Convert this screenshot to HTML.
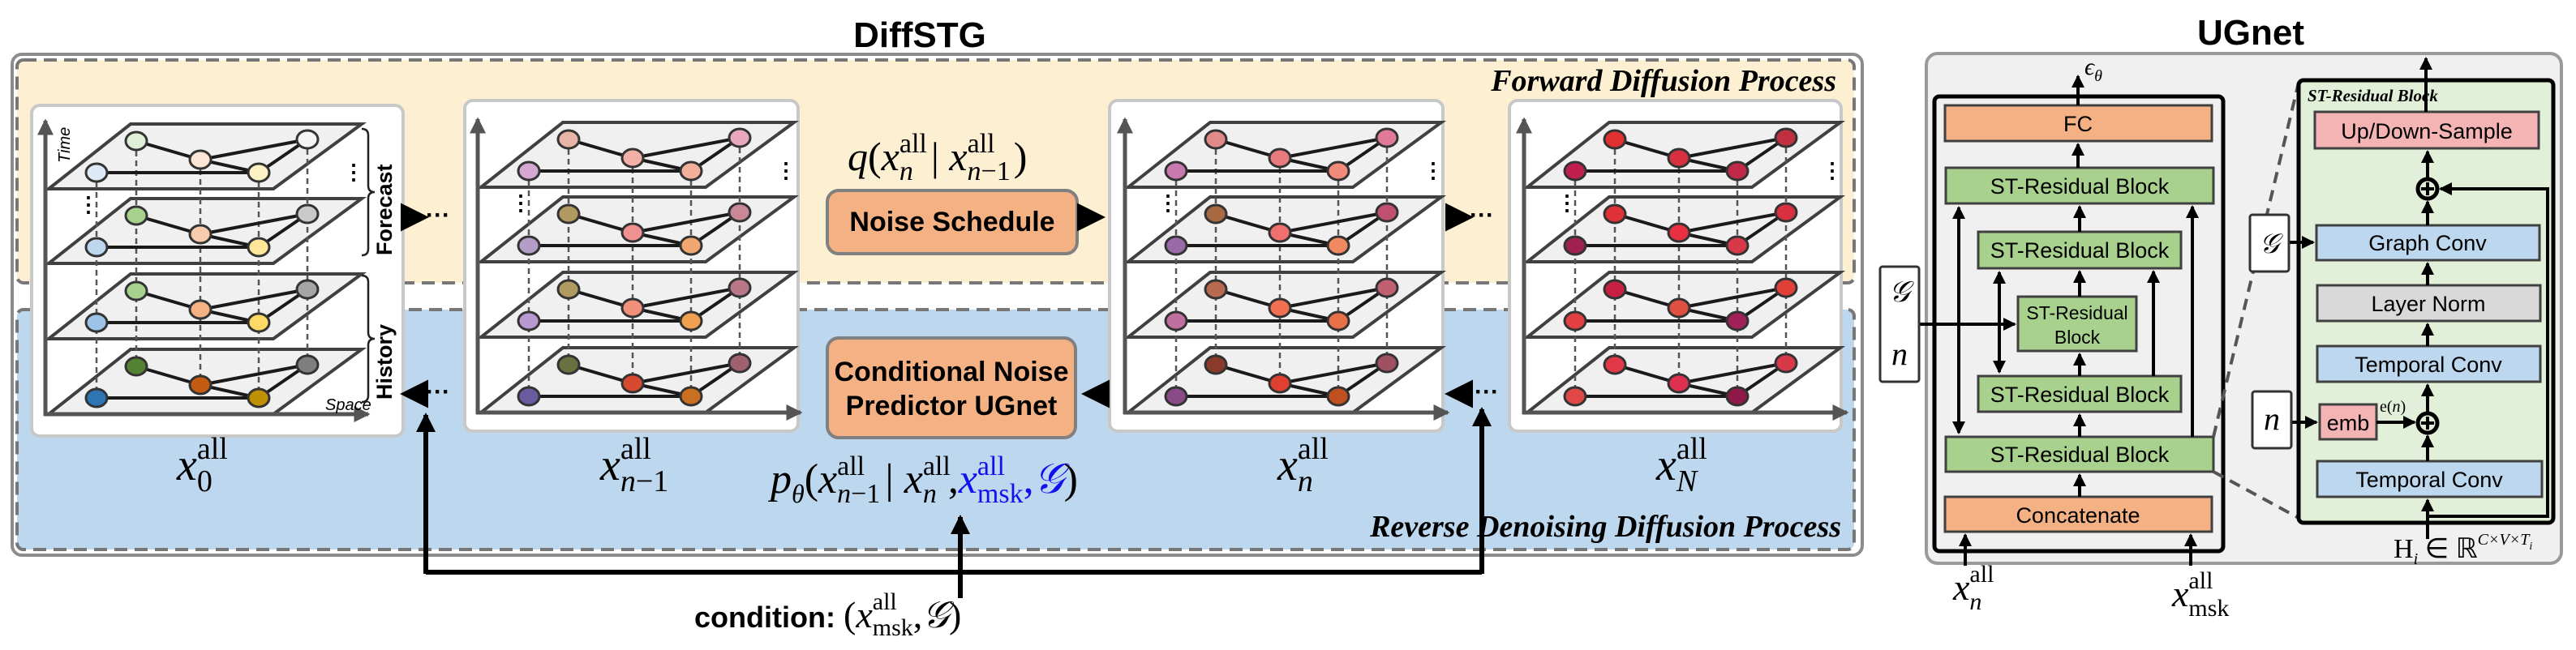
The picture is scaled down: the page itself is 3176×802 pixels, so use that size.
<!DOCTYPE html>
<html><head><meta charset="utf-8"><style>
html,body{margin:0;padding:0;background:#fff;}
svg{display:block;}
.m{font-family:"Liberation Serif",serif;font-style:italic;}
.r{font-family:"Liberation Serif",serif;}
.s{font-family:"Liberation Sans",sans-serif;}
.b{font-family:"Liberation Sans",sans-serif;font-weight:bold;}
</style></head><body>
<svg id="S" width="3176" height="802" viewBox="0 0 3176 802" xmlns="http://www.w3.org/2000/svg">
<defs>
<marker id="ah" markerWidth="5" markerHeight="5" refX="4" refY="2.5" orient="auto" markerUnits="strokeWidth"><path d="M0,0 L5,2.5 L0,5 z" fill="#000"/></marker>
<marker id="ahs" markerWidth="4" markerHeight="4" refX="3.5" refY="2" orient="auto-start-reverse" markerUnits="strokeWidth"><path d="M0,0 L4,2 L0,4 z" fill="#000"/></marker>
<marker id="ag" markerWidth="4" markerHeight="4" refX="3.5" refY="2" orient="auto" markerUnits="strokeWidth"><path d="M0,0 L4,2 L0,4 z" fill="#555"/></marker>
</defs>
<!-- DiffSTG -->
<text x="1134" y="58" class="b" font-size="44" text-anchor="middle">DiffSTG</text>
<rect x="15" y="67" width="2281" height="618" rx="12" fill="#fff" stroke="#8c8c8c" stroke-width="4"/>
<rect x="21" y="74" width="2265" height="275" rx="8" fill="#fdf0d2" stroke="#777" stroke-width="4" stroke-dasharray="16,9"/>
<rect x="21" y="382" width="2265" height="296" rx="8" fill="#bdd7ee" stroke="#777" stroke-width="4" stroke-dasharray="16,9"/>
<text x="2264" y="112" class="r" font-style="italic" font-weight="bold" font-size="38" text-anchor="end">Forward Diffusion Process</text>
<text x="2270" y="662" class="r" font-style="italic" font-weight="bold" font-size="38" text-anchor="end">Reverse Denoising Diffusion Process</text>
<g id="panels"></g>
<!-- Noise schedule -->
<rect x="1020" y="235" width="308" height="78" rx="14" fill="#f4b183" stroke="#808080" stroke-width="4"/>
<text x="1174" y="285" class="b" font-size="34" text-anchor="middle">Noise Schedule</text>
<rect x="1020" y="417" width="306" height="123" rx="14" fill="#f4b183" stroke="#808080" stroke-width="4"/>
<text x="1173" y="470" class="b" font-size="34" text-anchor="middle">Conditional Noise</text>
<text x="1173" y="512" class="b" font-size="34" text-anchor="middle">Predictor UGnet</text>
<!-- q label -->
<text x="1045" y="210" class="m" font-size="50">q<tspan class="r" font-style="normal">(</tspan>x<tspan font-size="34" class="r" font-style="normal" dy="-22">all</tspan><tspan font-size="34" dx="-34" dy="34">n</tspan><tspan dx="22" dy="-12" class="r" font-style="normal">|</tspan> x<tspan font-size="34" class="r" font-style="normal" dy="-22">all</tspan><tspan font-size="34" dx="-34" dy="34">n</tspan><tspan font-size="34" class="r" font-style="normal">−1</tspan><tspan dx="4" dy="-12" class="r" font-style="normal">)</tspan></text>
<!-- p label -->
<text x="950" y="608" class="m" font-size="52">p<tspan font-size="32" dy="12">θ</tspan><tspan dy="-12" class="r" font-style="normal">(</tspan>x<tspan font-size="34" class="r" font-style="normal" dy="-22">all</tspan><tspan font-size="34" dx="-34" dy="34">n</tspan><tspan font-size="34" class="r" font-style="normal">−1</tspan><tspan dx="6" dy="-12" class="r" font-style="normal">|</tspan> x<tspan font-size="34" class="r" font-style="normal" dy="-22">all</tspan><tspan font-size="34" dx="-34" dy="34">n</tspan><tspan dx="14" dy="-12" class="r" font-style="normal">,</tspan><tspan fill="#1010ee">x<tspan font-size="34" class="r" font-style="normal" dy="-22">all</tspan><tspan font-size="34" class="r" font-style="normal" dx="-34" dy="34">msk</tspan><tspan dy="-12" class="r" font-style="normal">,</tspan>𝒢</tspan><tspan class="r" font-style="normal">)</tspan></text>
<!-- arrows between panels -->
<g stroke="#000" stroke-width="7" fill="none">
<line x1="498" y1="268" x2="522" y2="268" marker-end="url(#ah)"/>
<line x1="1330" y1="268" x2="1356" y2="268" marker-end="url(#ah)"/>
<line x1="1785" y1="268" x2="1810" y2="268" marker-end="url(#ah)"/>
<line x1="524" y1="486" x2="500" y2="486" marker-end="url(#ah)"/>
<line x1="1366" y1="486" x2="1340" y2="486" marker-end="url(#ah)"/>
<line x1="1813" y1="486" x2="1788" y2="486" marker-end="url(#ah)"/>
</g>
<g class="b" font-size="30"><text x="525" y="275">···</text><text x="1812" y="275">···</text><text x="525" y="493">···</text><text x="1818" y="493">···</text></g>
<!-- feedback -->
<g stroke="#000" stroke-width="6" fill="none">
<polyline points="525,706 1827,706"/>
<line x1="525" y1="708" x2="525" y2="512" marker-end="url(#ahs)"/>
<line x1="1827" y1="708" x2="1827" y2="505" marker-end="url(#ahs)"/>
<line x1="1184" y1="738" x2="1184" y2="638" marker-end="url(#ahs)"/>
</g>
<text x="856" y="774" class="b" font-size="36">condition:</text>
<text x="1040" y="774" class="m" font-size="46"><tspan class="r" font-style="normal">(</tspan>x<tspan font-size="30" class="r" font-style="normal" dy="-22">all</tspan><tspan font-size="30" class="r" font-style="normal" dx="-30" dy="32">msk</tspan><tspan dy="-10" class="r" font-style="normal">,</tspan>𝒢<tspan class="r" font-style="normal">)</tspan></text>
<!-- panel labels -->
<g class="m" font-size="56">
<text x="218" y="592">x<tspan class="r" font-style="normal" font-size="38" dy="-26">all</tspan><tspan class="r" font-style="normal" font-size="38" dx="-38" dy="40">0</tspan></text>
<text x="740" y="592">x<tspan class="r" font-style="normal" font-size="38" dy="-26">all</tspan><tspan font-size="38" dx="-38" dy="40">n</tspan><tspan class="r" font-style="normal" font-size="38">−1</tspan></text>
<text x="1575" y="592">x<tspan class="r" font-style="normal" font-size="38" dy="-26">all</tspan><tspan font-size="38" dx="-38" dy="40">n</tspan></text>
<text x="2042" y="592">x<tspan class="r" font-style="normal" font-size="38" dy="-26">all</tspan><tspan font-size="38" dx="-38" dy="40">N</tspan></text>
</g>

<!-- UGnet -->
<text x="2775" y="55" class="b" font-size="44" text-anchor="middle">UGnet</text>
<rect x="2375" y="66" width="783" height="629" rx="14" fill="#f0f0f0" stroke="#9a9a9a" stroke-width="4"/>
<rect x="2385" y="119" width="356" height="561" rx="6" fill="none" stroke="#000" stroke-width="5"/>
<g stroke="#404040" stroke-width="3">
<rect x="2398" y="130" width="329" height="44" fill="#f4b183"/>
<rect x="2399" y="207" width="330" height="44" fill="#a9d18e"/>
<rect x="2439" y="286" width="250" height="45" fill="#a9d18e"/>
<rect x="2488" y="366" width="146" height="67" fill="#a9d18e"/>
<rect x="2439" y="464" width="250" height="44" fill="#a9d18e"/>
<rect x="2399" y="539" width="330" height="43" fill="#a9d18e"/>
<rect x="2398" y="613" width="329" height="43" fill="#f4b183"/>
</g>
<g class="s" font-size="27" text-anchor="middle">
<text x="2562" y="162">FC</text>
<text x="2564" y="239">ST-Residual Block</text>
<text x="2564" y="318">ST-Residual Block</text>
<text x="2561" y="394" font-size="23">ST-Residual</text>
<text x="2561" y="424" font-size="23">Block</text>
<text x="2564" y="496">ST-Residual Block</text>
<text x="2564" y="570">ST-Residual Block</text>
<text x="2562" y="645">Concatenate</text>
</g>
<g stroke="#000" stroke-width="4" fill="none">
<line x1="2562" y1="130" x2="2562" y2="94" marker-end="url(#ahs)"/>
<line x1="2562" y1="207" x2="2562" y2="178" marker-end="url(#ahs)"/>
<line x1="2564" y1="286" x2="2564" y2="255" marker-end="url(#ahs)"/>
<line x1="2564" y1="366" x2="2564" y2="335" marker-end="url(#ahs)"/>
<line x1="2564" y1="464" x2="2564" y2="437" marker-end="url(#ahs)"/>
<line x1="2564" y1="539" x2="2564" y2="512" marker-end="url(#ahs)"/>
<line x1="2564" y1="613" x2="2564" y2="586" marker-end="url(#ahs)"/>
<line x1="2415" y1="256" x2="2415" y2="534" marker-start="url(#ahs)" marker-end="url(#ahs)"/>
<line x1="2703" y1="539" x2="2703" y2="255" marker-end="url(#ahs)"/>
<line x1="2465" y1="336" x2="2465" y2="459" marker-start="url(#ahs)" marker-end="url(#ahs)"/>
<line x1="2655" y1="464" x2="2655" y2="335" marker-end="url(#ahs)"/>
<line x1="2423" y1="698" x2="2423" y2="660" marker-end="url(#ahs)"/>
<line x1="2701" y1="698" x2="2701" y2="660" marker-end="url(#ahs)"/>
<line x1="2366" y1="400" x2="2484" y2="400" marker-end="url(#ahs)"/>
</g>
<text x="2570" y="92" class="m" font-size="30">ϵ<tspan font-size="20" dy="8">θ</tspan></text>
<rect x="2318" y="329" width="48" height="142" fill="#fff" stroke="#333" stroke-width="3" rx="3"/>
<text x="2342" y="372" class="m" font-size="36" text-anchor="middle">𝒢</text>
<text x="2342" y="450" class="m" font-size="40" text-anchor="middle">n</text>
<text x="2408" y="740" class="m" font-size="46">x<tspan class="r" font-style="normal" font-size="30" dy="-22">all</tspan><tspan font-size="30" dx="-30" dy="34">n</tspan></text>
<text x="2678" y="748" class="m" font-size="46">x<tspan class="r" font-style="normal" font-size="30" dy="-22">all</tspan><tspan class="r" font-style="normal" font-size="30" dx="-30" dy="34">msk</tspan></text>
<!-- dashed zoom lines -->
<g stroke="#555" stroke-width="4" stroke-dasharray="14,9" fill="none">
<line x1="2729" y1="539" x2="2834" y2="102"/>
<line x1="2729" y1="582" x2="2834" y2="639"/>
</g>
<!-- ST-Residual detail -->
<rect x="2834" y="99" width="314" height="546" rx="6" fill="#e2efd9" stroke="#000" stroke-width="5"/>
<text x="2845" y="125" class="r" font-style="italic" font-weight="bold" font-size="21">ST-Residual Block</text>
<g stroke="#404040" stroke-width="3">
<rect x="2854" y="138" width="276" height="45" fill="#f4b4b4"/>
<rect x="2856" y="278" width="275" height="43" fill="#bdd7ee"/>
<rect x="2857" y="352" width="275" height="44" fill="#d9d9d9"/>
<rect x="2857" y="427" width="275" height="44" fill="#bdd7ee"/>
<rect x="2860" y="499" width="70" height="43" fill="#f4b4b4"/>
<rect x="2857" y="569" width="277" height="44" fill="#bdd7ee"/>
</g>
<g class="s" font-size="27" text-anchor="middle">
<text x="2992" y="171">Up/Down-Sample</text>
<text x="2993" y="309">Graph Conv</text>
<text x="2994" y="384">Layer Norm</text>
<text x="2994" y="459">Temporal Conv</text>
<text x="2895" y="531">emb</text>
<text x="2995" y="601">Temporal Conv</text>
</g>
<g stroke="#000" stroke-width="4" fill="none">
<circle cx="2993" cy="233" r="12" stroke-width="5"/><line x1="2985" y1="233" x2="3001" y2="233"/><line x1="2993" y1="225" x2="2993" y2="241"/>
<circle cx="2993" cy="522" r="12" stroke-width="5"/><line x1="2985" y1="522" x2="3001" y2="522"/><line x1="2993" y1="514" x2="2993" y2="530"/>
<line x1="2991" y1="138" x2="2991" y2="72" marker-end="url(#ahs)"/>
<line x1="2993" y1="221" x2="2993" y2="187" marker-end="url(#ahs)"/>
<line x1="2993" y1="278" x2="2993" y2="249" marker-end="url(#ahs)"/>
<line x1="2993" y1="352" x2="2993" y2="325" marker-end="url(#ahs)"/>
<line x1="2993" y1="427" x2="2993" y2="400" marker-end="url(#ahs)"/>
<line x1="2993" y1="510" x2="2993" y2="475" marker-end="url(#ahs)"/>
<line x1="2993" y1="569" x2="2993" y2="538" marker-end="url(#ahs)"/>
<line x1="2993" y1="665" x2="2993" y2="617" marker-end="url(#ahs)"/>
<polyline points="2993,637 3141,637 3141,233 3009,233" marker-end="url(#ahs)"/>
<line x1="2930" y1="521" x2="2977" y2="521" marker-end="url(#ahs)"/>
<line x1="2822" y1="299" x2="2852" y2="299" marker-end="url(#ahs)"/>
<line x1="2825" y1="521" x2="2856" y2="521" marker-end="url(#ahs)"/>
</g>
<text x="2934" y="508" class="r" font-size="20">e(<tspan font-style="italic">n</tspan>)</text>
<rect x="2774" y="265" width="48" height="70" fill="#fff" stroke="#333" stroke-width="3" rx="3"/>
<text x="2798" y="312" class="m" font-size="34" text-anchor="middle">𝒢</text>
<rect x="2777" y="483" width="48" height="70" fill="#fff" stroke="#333" stroke-width="3" rx="3"/>
<text x="2801" y="530" class="m" font-size="40" text-anchor="middle">n</text>
<text x="2951" y="688" class="r" font-size="34">H<tspan font-size="20" font-style="italic" dy="8">i</tspan><tspan dy="-8"> ∈ ℝ</tspan><tspan font-size="20" font-style="italic" dy="-16">C×V×T</tspan><tspan font-size="14" font-style="italic" dy="6">i</tspan></text>
</svg>
<script>
(function(){
var g=document.getElementById('panels');var h='';
var nodes=[[63,-20],[112,-59],[191,-36],[263,-20],[323,-61]];
var edges=[[0,3],[1,2],[2,4],[2,3],[3,4]];
var planeB=[-278,-186,-93,0];
function panel(ox,oy,bx0,bx1,by0,by1,cols,brace){
 h+='<rect x="'+bx0+'" y="'+by0+'" width="'+(bx1-bx0)+'" height="'+(by1-by0)+'" rx="10" fill="#fff" stroke="#c8c8c8" stroke-width="4"/>';
 for(var p=0;p<4;p++){var yb=oy+planeB[p];
  h+='<polygon points="'+(ox+4)+','+yb+' '+(ox+281)+','+yb+' '+(ox+390)+','+(yb-80)+' '+(ox+105)+','+(yb-80)+'" fill="#f0f0f0" stroke="#404040" stroke-width="4"/>';}
 for(var i=0;i<5;i++){var x=ox+nodes[i][0];
  h+='<line x1="'+x+'" y1="'+(oy+planeB[0]+nodes[i][1])+'" x2="'+x+'" y2="'+(oy+nodes[i][1])+'" stroke="#555" stroke-width="2.5" stroke-dasharray="7,5"/>';}
 for(var p=0;p<4;p++){var yb=oy+planeB[p];
  for(var e=0;e<5;e++){var a=nodes[edges[e][0]],b=nodes[edges[e][1]];
   h+='<line x1="'+(ox+a[0])+'" y1="'+(yb+a[1])+'" x2="'+(ox+b[0])+'" y2="'+(yb+b[1])+'" stroke="#1a1a1a" stroke-width="4"/>';}
  for(var i=0;i<5;i++){h+='<ellipse cx="'+(ox+nodes[i][0])+'" cy="'+(yb+nodes[i][1])+'" rx="13" ry="11" fill="'+cols[p][i]+'" stroke="#333" stroke-width="3"/>';}
 }
 h+='<line x1="'+ox+'" y1="'+(oy+2)+'" x2="'+ox+'" y2="'+(oy-362)+'" stroke="#555" stroke-width="5" marker-end="url(#ag)"/>';
 h+='<line x1="'+(ox-2)+'" y1="'+oy+'" x2="'+(ox+398)+'" y2="'+oy+'" stroke="#555" stroke-width="5" marker-end="url(#ag)"/>';
 h+='<text x="'+(ox+367)+'" y="'+(oy-290)+'" font-family="Liberation Sans" font-size="26" font-weight="bold">⋮</text>';
 h+='<text x="'+(ox+40)+'" y="'+(oy-250)+'" font-family="Liberation Sans" font-size="26" font-weight="bold">⋮</text>';
 if(brace){
  h+='<text transform="translate('+(ox+30)+','+(oy-310)+') rotate(-90)" font-family="Liberation Sans" font-style="italic" font-size="20">Time</text>';
  h+='<text x="'+(ox+345)+'" y="'+(oy-5)+'" font-family="Liberation Sans" font-style="italic" font-size="20">Space</text>';
  h+='<path d="M'+(ox+390)+','+(oy-352)+' q8,0 8,8 v62 q0,8 8,8 q-8,0 -8,8 v62 q0,8 -8,8" fill="none" stroke="#222" stroke-width="2.5"/>';
  h+='<path d="M'+(ox+390)+','+(oy-171)+' q8,0 8,8 v62 q0,8 8,8 q-8,0 -8,8 v62 q0,8 -8,8" fill="none" stroke="#222" stroke-width="2.5"/>';
  h+='<text transform="translate('+(ox+427)+','+(oy-196)+') rotate(-90)" font-family="Liberation Sans" font-size="27" font-weight="bold">Forecast</text>';
  h+='<text transform="translate('+(ox+427)+','+(oy-18)+') rotate(-90)" font-family="Liberation Sans" font-size="27" font-weight="bold">History</text>';
 }
}
panel(56,511,39,497,130,538,[['#dde9f6','#e0f0d8','#fde4d4','#fdf2c6','#f4f4f4'],['#bdd7ee','#a9d18e','#f8cbad','#ffe699','#c9c9c9'],['#9dc3e6','#a9d18e','#f4b183','#ffd966','#a5a5a5'],['#2e75b6','#548235','#c55a11','#bf9000','#7f7f7f']],true);
panel(589,509,573,984,124,532,[['#d4a8d0','#e8b4a8','#f0b0a8','#f2b09a','#e8a8c0'],['#b49ec8','#b09a60','#f09090','#f0a870','#c88898'],['#b89ad0','#b09a60','#f0907a','#f0a050','#b87888'],['#6a5aa0','#6a7040','#d84a30','#c87020','#a06070']],false);
panel(1387,509,1368,1779,124,532,[['#c87ab0','#e08a8a','#e87a80','#f08a7a','#e07a98'],['#9a6aa8','#a86a40','#f07070','#f08860','#c05070'],['#c070a0','#b86a50','#f07050','#e87048','#c06070'],['#8a4a88','#8a3a28','#e04030','#c05020','#a05060']],false);
panel(1879,509,1861,2270,124,532,[['#c02050','#e03030','#d83040','#c02848','#c03040'],['#a02050','#e03038','#e83040','#d83848','#d83040'],['#e04040','#c82040','#e05040','#a02058','#e04038'],['#e04848','#e03848','#e03050','#901848','#d83848']],false);
g.innerHTML=h;
})();
</script>
</body></html>
